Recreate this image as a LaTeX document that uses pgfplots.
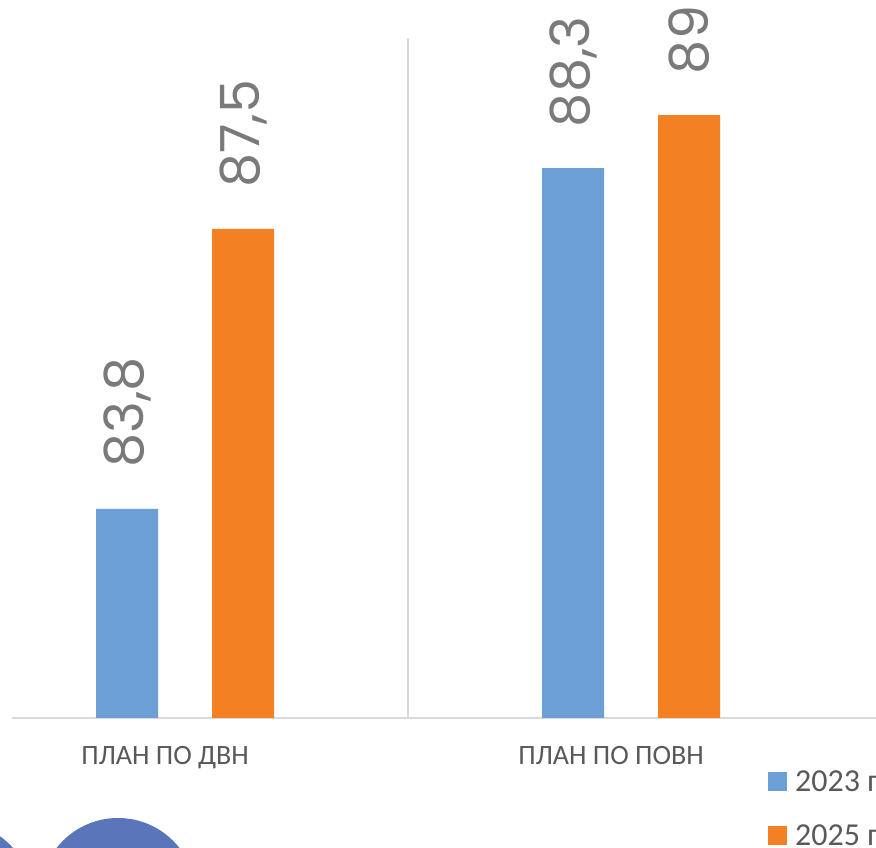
\documentclass[border=0pt]{standalone}
\usepackage{pgfplots}
\pgfplotsset{compat=1.18}
\usepackage{fontspec}
\setmainfont{Carlito}
\newfontfamily\numfont{Poppins}
\definecolor{cblue}{HTML}{6B9FD5}
\definecolor{corange}{HTML}{F48024}
\definecolor{cgrid}{HTML}{D9D9D9}
\definecolor{ctext}{HTML}{595959}
\definecolor{cnum}{HTML}{7A7A7A}
\definecolor{ccirc}{HTML}{5A75BA}
\begin{document}
\begin{tikzpicture}
\path[use as bounding box] (0pt,0pt) rectangle (876pt,848pt);
\clip (0pt,0pt) rectangle (876pt,848pt);
\fill[ccirc] (118pt,-48pt) circle[radius=78pt];
\fill[ccirc] (-45pt,-52pt) circle[radius=78pt];
\begin{axis}[
  at={(12pt,130pt)}, anchor=south west,
  scale only axis, width=864pt, height=680pt,
  xmin=-0.388, xmax=1.549, ymin=81.04, ymax=90.02,
  axis x line=bottom, axis y line=none,
  axis line style={cgrid, line width=1.6pt, -},
  xtick={0.5}, xticklabels={}, xmajorgrids,
  major grid style={cgrid, line width=1.6pt},
  major tick length=0pt,
  extra x ticks={0,1},
  extra x tick labels={ПЛАН ПО ДВН, ПЛАН ПО ПОВН},
  extra x tick style={grid=none, major tick length=0pt,
     tick label style={font=\fontsize{28}{30}\selectfont, text=ctext, yshift=-25pt, xshift=-20pt}},
  ybar=54pt, bar width=62pt,
  nodes near coords={\numfont\pgfmathprintnumber[use comma, assume math mode=true]{\pgfplotspointmeta}},
  every node near coord/.append style={rotate=90, anchor=west, inner xsep=41pt,
     font=\fontsize{54}{56}\selectfont, text=cnum},
  legend style={at={(0.875,-0.074)}, anchor=north west, draw=none, fill=none,
     font=\fontsize{32}{34}\selectfont, text=ctext, row sep=28pt,
     legend cell align=left, inner sep=0pt,
     /tikz/every odd column/.append style={column sep=6pt}},
  legend image code/.code={\fill[#1] (0pt,-9.5pt) rectangle (19pt,9.5pt);},
]
\addplot[fill=cblue, draw=none] coordinates {(0,83.8) (1,88.3)};
\addplot[fill=corange, draw=none] coordinates {(0,87.5) (1,89)};
\legend{2023 г, 2025 г}
\end{axis}
\end{tikzpicture}
\end{document}
